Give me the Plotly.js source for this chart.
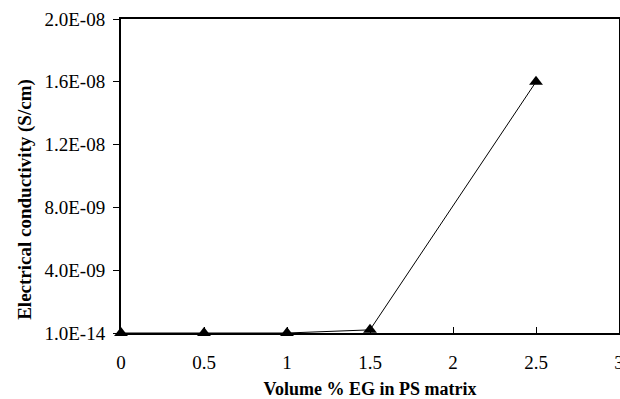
<!DOCTYPE html>
<html>
<head>
<meta charset="utf-8">
<script src="https://cdn.plot.ly/plotly-3.0.1.min.js"></script>
<style>html,body{margin:0;padding:0;background:#fff;}#chart{width:620px;height:399px;}</style>
</head>
<body>
<div id="chart"></div>
<script>
const volumePct = [0, 0.5, 1, 1.5, 2.5];
const conductivity = [1.0e-14, 1.0e-14, 1.0e-14, 2.0e-10, 1.6e-8];
const xTickVals = [0, 0.5, 1, 1.5, 2, 2.5, 3];
const xTickText = ["0", "0.5", "1", "1.5", "2", "2.5", "3"];
const yTickVals = [0, 4e-9, 8e-9, 1.2e-8, 1.6e-8, 2e-8];
const yTickText = ["1.0E-14", "4.0E-09", "8.0E-09", "1.2E-08", "1.6E-08", "2.0E-08"];
const xTitle = "Volume % EG in PS matrix";
const yTitle = "Electrical conductivity (S/cm)";

const serif = "Liberation Serif, Times New Roman, serif";
const trace = {
  x: volumePct,
  y: conductivity,
  type: "scatter",
  mode: "lines+markers",
  line: {color: "#000", width: 1},
  marker: {symbol: "triangle-up", size: 12, color: "#000"},
  cliponaxis: false,
  showlegend: false
};
const layout = {
  width: 620, height: 399,
  margin: {l: 121, r: 1, t: 19, b: 66},
  paper_bgcolor: "#fff", plot_bgcolor: "#fff",
  font: {family: serif, color: "#000", size: 19},
  xaxis: {
    range: [0, 3], tickvals: xTickVals, ticktext: xTickText,
    ticks: "inside", ticklen: 6, tickwidth: 1, tickcolor: "#000",
    ticklabeloverflow: "allow", ticklabelstandoff: 11,
    showline: true, linecolor: "#000", linewidth: 2, mirror: true,
    showgrid: false, zeroline: false, automargin: false,
    tickfont: {family: serif, size: 19},
    title: {text: "<b>" + xTitle + "</b>", font: {family: serif, size: 18}, standoff: 18}
  },
  yaxis: {
    range: [0, 2e-8], tickvals: yTickVals, ticktext: yTickText,
    ticks: "outside", ticklen: 6, tickwidth: 1, tickcolor: "#000",
    ticklabelstandoff: 4,
    showline: true, linecolor: "#000", linewidth: 2, mirror: true,
    showgrid: false, zeroline: false, automargin: false,
    tickfont: {family: serif, size: 19}
  },
  annotations: [{
    text: "<b>" + yTitle + "</b>",
    xref: "paper", yref: "paper", x: -0.193, y: 0.427,
    xanchor: "center", yanchor: "middle", textangle: -90,
    showarrow: false, font: {family: serif, size: 19, color: "#000"}
  }]
};
Plotly.newPlot("chart", [trace], layout, {displayModeBar: false, staticPlot: true});
</script>
</body>
</html>
